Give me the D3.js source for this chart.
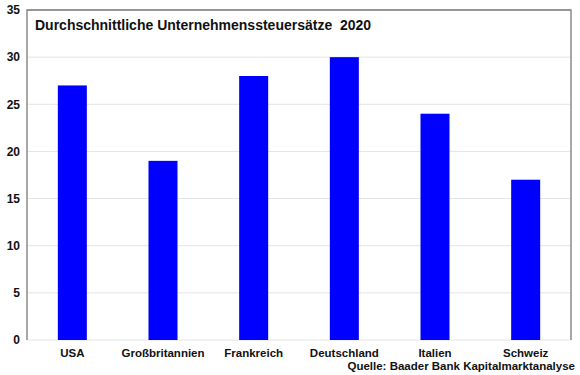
<!DOCTYPE html>
<html>
<head>
<meta charset="utf-8">
<script src="https://cdn.jsdelivr.net/npm/d3@7"></script>
<style>
  body { margin: 0; background: #fff; }
  text { font-family: "Liberation Sans", Arial, sans-serif; font-weight: bold; fill: #111; }
</style>
</head>
<body>
<svg id="chart" width="580" height="375"></svg>
<script>
var countries = ["USA", "Großbritannien", "Frankreich", "Deutschland", "Italien", "Schweiz"];
var rates = [27, 19, 28, 30, 24, 17];
var yTicks = [0, 5, 10, 15, 20, 25, 30, 35];
var title = "Durchschnittliche Unternehmenssteuersätze  2020";
var source = "Quelle: Baader Bank Kapitalmarktanalyse";

var svg = d3.select("#chart");
var plotLeft = 27, plotRight = 571, plotTop = 10, plotBottom = 340;

var x = d3.scaleBand().domain(countries).range([plotLeft, plotRight]).paddingInner(0.68).paddingOuter(0.34);
var y = d3.scaleLinear().domain([0, 35]).range([plotBottom, plotTop]);

// grid
svg.append("g").selectAll("line").data(yTicks).enter()
	.append("line")
	.attr("x1", plotLeft).attr("x2", plotRight)
	.attr("y1", function(d) { return y(d); })
	.attr("y2", function(d) { return y(d); })
	.attr("stroke", "#e4e4e4")
	.attr("stroke-width", 1);

// frame
svg.append("path")
	.attr("d", "M" + plotLeft + "," + plotBottom + "V" + plotTop + "H" + plotRight + "V" + plotBottom)
	.attr("fill", "none")
	.attr("stroke", "#7a7a7a")
	.attr("stroke-width", 1.3);

// bars
svg.append("g").selectAll("rect").data(rates).enter()
	.append("rect")
	.attr("x", function(d, i) { return x(countries[i]); })
	.attr("width", x.bandwidth())
	.attr("y", function(d) { return y(d); })
	.attr("height", function(d) { return y(0) - y(d); })
	.attr("fill", "#0000ff");

// y axis labels
var yAxis = d3.axisLeft(y).tickValues(yTicks).tickSize(0).tickPadding(7);
var ya = svg.append("g").attr("transform", "translate(" + plotLeft + ",0)").call(yAxis);
ya.select(".domain").remove();
ya.selectAll("text").style("font-size", "12px");

// x labels
var xAxis = d3.axisBottom(x).tickSize(0).tickPadding(9);
var xa = svg.append("g").attr("transform", "translate(0," + plotBottom + ")").call(xAxis);
xa.select(".domain").remove();
xa.selectAll("text").style("font-size", "11.5px");

svg.append("text")
	.attr("x", 35).attr("y", 30)
	.style("font-size", "14px")
	.attr("xml:space", "preserve")
	.text(title);

svg.append("text")
	.attr("x", 575).attr("y", 370)
	.attr("text-anchor", "end")
	.style("font-size", "11.5px")
	.text(source);
</script>
</body>
</html>
